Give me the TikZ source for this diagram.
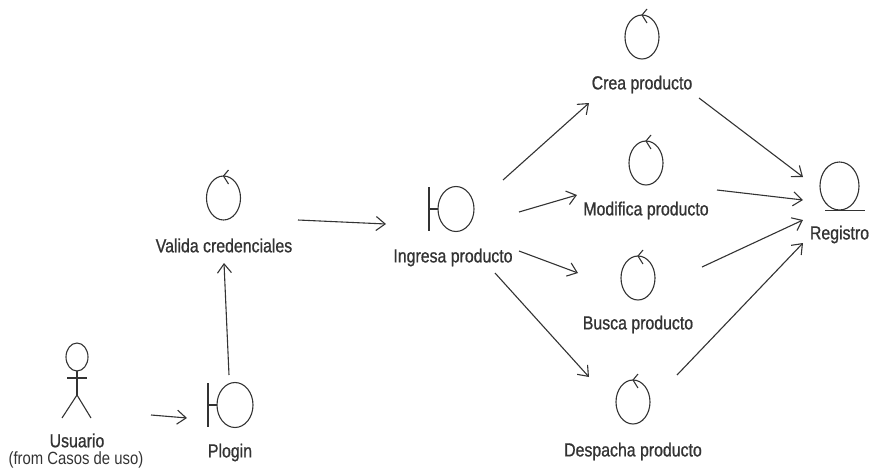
\documentclass[tikz,border=0pt]{standalone}
\usepackage{fontspec}
\setmainfont[FakeStretch=0.84]{Liberation Sans}
\newfontfamily\boldlabel[FakeStretch=0.84,FakeBold=0.9]{Liberation Sans}
\usetikzlibrary{arrows.meta,shapes.geometric}
\definecolor{MyInk}{RGB}{51, 51, 51}
\newcommand{\lw}{1.1pt}
\newcommand{\controlmark}[1]{
  \draw[symbolline] ([shift={(5,-6)}]#1.north) -- (#1.north) -- ([shift={(5,8)}]#1.north);
}
\newcommand{\boundarymark}[1]{
  \draw[symbolline] (#1.west) -- ++(-9,0) ++(0,-22) -- ++(0,44);
}
\tikzset{
  symbolline/.style={draw=MyInk, line width=\lw},
  control/.style={symbolline, ellipse, minimum width=34pt, minimum height=44pt, inner sep=0pt, outer sep=0pt},
  boundary/.style={symbolline, ellipse, minimum width=36pt, minimum height=45pt, inner sep=0pt, outer sep=0pt},
  entity/.style={symbolline, ellipse, minimum width=39pt, minimum height=48pt, inner sep=0pt, outer sep=0pt},
  actorhead/.style={symbolline, ellipse, minimum width=22pt, minimum height=28pt, inner sep=0pt, outer sep=0pt},
  caption/.style={text=MyInk, font=\boldlabel\fontsize{18.9}{21}\selectfont, inner sep=0pt, yshift=-1.5pt},
  subcaption/.style={text=MyInk, font=\fontsize{17.7}{20}\selectfont, inner sep=0pt},
  flow/.style={-{Straight Barb[length=9pt,width=14pt]}, draw=MyInk, line width=\lw},
}

\begin{document}
\begin{tikzpicture}[x=1pt, y=-1pt]
  \useasboundingbox (0,0) rectangle (873,472);
  % actor and boundary on the left
  \node[actorhead] (usuario) at (77,357) {};
  \node[caption] (usuariolabel) at (77,439) {Usuario};
  \node[subcaption] (usuariofrom) at (76,460) {(from Casos de uso)};
  \node[boundary] (plogin) at (235,405) {};
  \node[caption] (ploginlabel) at (230,451) {Plogin};
  \node[control] (valida) at (223.5,198) {};
  \node[caption] (validalabel) at (224,244) {Valida credenciales};
  \node[boundary] (ingresa) at (456,209) {};
  \node[caption] (ingresalabel) at (453,256) {Ingresa producto};
  % controls
  \node[control] (crea) at (642,37) {};
  \node[caption] (crealabel) at (642,83) {Crea producto};
  \node[control] (modifica) at (646,163) {};
  \node[caption] (modificalabel) at (646,209) {Modifica producto};
  \node[control] (busca) at (638,278) {};
  \node[caption] (buscalabel) at (638,323) {Busca producto};
  \node[control] (despacha) at (633,402) {};
  \node[caption] (despachalabel) at (633,450) {Despacha producto};
  \node[entity] (registro) at (839.5,186) {};
  \node[caption] (registrolabel) at (839.5,233) {Registro};

  \draw[symbolline] (usuario.south) -- ++(0,24) coordinate (hip);
  \draw[symbolline] ([shift={(-10,7)}]usuario.south) -- ++(20,0);
  \draw[symbolline] (hip) -- ++(-15,23);
  \draw[symbolline] (hip) -- ++(14,23);
  \draw[symbolline] (registro.south west |- registro.south) ++(-0.5,0.5) -- ++(40,0);
  \boundarymark{plogin}
  \boundarymark{ingresa}
  \controlmark{valida}
  \controlmark{crea}
  \controlmark{modifica}
  \controlmark{busca}
  \controlmark{despacha}

  \draw[flow] ([shift={(74,58)}]usuario.center) -- ([shift={(-48,13)}]plogin.center);
  \draw[flow] ([shift={(-6,-30)}]plogin.center) -- ([shift={(0.5,65)}]valida.center);
  \draw[flow] ([shift={(74.5,22)}]valida.center) -- ([shift={(-70,15)}]ingresa.center);
  \draw[flow] ([shift={(47,-29)}]ingresa.center) -- ([shift={(-53,66)}]crea.center);
  \draw[flow] ([shift={(63,3)}]ingresa.center) -- ([shift={(-69,32)}]modifica.center);
  \draw[flow] ([shift={(63,42)}]ingresa.center) -- ([shift={(-60,-5)}]busca.center);
  \draw[flow] ([shift={(39,64)}]ingresa.center) -- ([shift={(-44,-25)}]despacha.center);
  \draw[flow] ([shift={(57,61)}]crea.center) -- ([shift={(-36.5,-9)}]registro.center);
  \draw[flow] ([shift={(71,27)}]modifica.center) -- ([shift={(-36.5,14)}]registro.center);
  \draw[flow] ([shift={(64,-11)}]busca.center) -- ([shift={(-36.5,34)}]registro.center);
  \draw[flow] ([shift={(44,-27)}]despacha.center) -- ([shift={(-36.5,57)}]registro.center);
\end{tikzpicture}
\end{document}
